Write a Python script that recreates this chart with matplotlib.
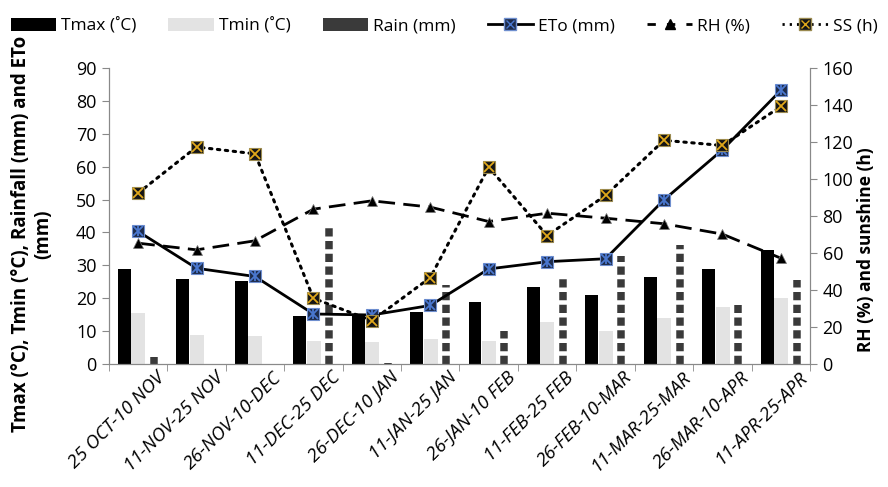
import matplotlib.pyplot as plt
import matplotlib.transforms as mtransforms
from matplotlib.patches import Patch
from matplotlib.lines import Line2D
import numpy as np

# dane
periods = ['25 OCT-10 NOV', '11-NOV-25 NOV', '26-NOV-10-DEC', '11-DEC-25 DEC',
           '26-DEC-10 JAN', '11-JAN-25 JAN', '26-JAN-10 FEB', '11-FEB-25 FEB',
           '26-FEB-10-MAR', '11-MAR-25-MAR', '26-MAR-10-APR', '11-APR-25-APR']
tmax = [29.0, 25.8, 25.3, 14.7, 14.5, 15.8, 18.9, 23.5, 20.9, 26.3, 29.0, 34.6]
tmin = [15.6, 8.9, 8.6, 7.1, 6.8, 7.5, 7.0, 12.7, 10.0, 13.9, 17.4, 20.0]
rain = [2.2, 0.0, 0.0, 41.5, 0.3, 24.0, 10.0, 26.0, 32.9, 36.2, 18.0, 25.4]
eto = [40.3, 29.1, 26.6, 15.2, 14.9, 17.8, 28.9, 31.1, 32.0, 49.9, 65.1, 83.2]
rh = [65.3, 61.7, 66.6, 83.7, 88.2, 84.8, 77.0, 81.5, 78.8, 75.8, 70.2, 57.2]
ss = [92.4, 117.3, 113.6, 35.5, 23.4, 46.7, 106.4, 69.4, 91.1, 120.9, 118.1, 139.2]

plt.rcParams['font.family'] = ['Open Sans', 'DejaVu Sans']
spine_col = '#898989'

fig = plt.figure(figsize=(8.88, 4.87), dpi=100)
ax = fig.add_axes([0.1227, 0.2526, 0.7895, 0.6078])
ax2 = ax.twinx()

x = np.arange(len(periods))

# slupki
ax.bar(x - 0.235, tmax, width=0.22, color='black', zorder=2)
ax.bar(x + 0.005, tmin, width=0.24, color='#e3e3e3', zorder=2)
# opady - kolumna z kwadracikow
ax.vlines(x + 0.27, 0, rain, colors='#3a3a3a', linewidth=5.4,
          linestyles=(0, (1.1, 0.6)), capstyle='butt', zorder=2)

# ETo (lewa os)
ax.plot(x, eto, color='black', linewidth=2.0, zorder=4)
ax.plot(x, eto, linestyle='none', marker='s', markersize=9,
        markerfacecolor='#1d2b4a', markeredgecolor='#6f8fcf', markeredgewidth=0.8, zorder=5)
ax.plot(x, eto, linestyle='none', marker='x', markersize=6.5,
        color='#4a78d0', markeredgewidth=1.3, zorder=6)
ax.plot(x, eto, linestyle='none', marker='|', markersize=7,
        color='#4a78d0', markeredgewidth=1.3, zorder=6)

# RH i SS (prawa os)
ax2.plot(x, rh, color='black', linewidth=2.0, linestyle=(0, (6, 3)), zorder=3)
ax2.plot(x, rh, linestyle='none', marker='^', markersize=7.5, color='black',
         markeredgecolor='#777777', markeredgewidth=0.5, zorder=4)
ax2.plot(x, ss, color='black', linewidth=2.2, linestyle=(0, (0.8, 1.8)),
         dash_capstyle='round', zorder=3)
ax2.plot(x, ss, linestyle='none', marker='s', markersize=9,
         markerfacecolor='#151515', markeredgecolor='#9a8a50', markeredgewidth=0.8, zorder=4)
ax2.plot(x, ss, linestyle='none', marker='x', markersize=6.5,
         color='#e0a81a', markeredgewidth=1.3, zorder=5)

# osie
ax.set_xlim(-0.5, len(periods) - 0.5)
ax.set_ylim(0, 90)
ax.set_yticks(range(0, 91, 10))
ax2.set_ylim(0, 160)
ax2.set_yticks(range(0, 161, 20))

ax.set_xticks(x)
ax.set_xticks(np.arange(-0.5, len(periods)), minor=True)
ax.tick_params(axis='x', which='major', length=0, pad=2)
ax.tick_params(axis='x', which='minor', length=5, color=spine_col)
ax.tick_params(axis='y', length=5, color=spine_col, labelsize=13, pad=4)
ax2.tick_params(axis='y', length=5, color=spine_col, labelsize=13, pad=4)

offset = mtransforms.ScaledTranslation(0.24, -0.08, fig.dpi_scale_trans)
ax.set_xticklabels(periods, rotation=45, ha='right', va='center',
                   rotation_mode='anchor', fontsize=13.5, style='italic')
for lab in ax.get_xticklabels():
    lab.set_transform(lab.get_transform() + offset)

for a in (ax, ax2):
    a.spines['top'].set_visible(False)
    for s in ('left', 'right', 'bottom'):
        a.spines[s].set_color(spine_col)
ax2.patch.set_visible(False)

fig.text(0.036, 0.52, 'Tmax (°C), Tmin (°C), Rainfall (mm) and ETo\n(mm)',
         rotation=90, ha='center', va='center', fontsize=13.5,
         fontweight='bold', linespacing=1.15)
fig.text(0.975, 0.488, 'RH (%) and sunshine (h)', rotation=90, ha='center',
         va='center', fontsize=12.5, fontweight='bold')

# legenda
h_tmax = Patch(facecolor='black')
h_tmin = Patch(facecolor='#e3e3e3')
h_rain = Patch(facecolor='#3a3a3a')
h_eto = (Line2D([], [], color='black', linewidth=2.0),
         Line2D([], [], linestyle='none', marker='s', markersize=8,
                markerfacecolor='#1d2b4a', markeredgecolor='#6f8fcf'),
         Line2D([], [], linestyle='none', marker='x', markersize=6, color='#4a78d0'))
h_rh = (Line2D([], [], color='black', linewidth=2.0, linestyle=(0, (3, 4))),
        Line2D([], [], linestyle='none', marker='^', markersize=7, color='black'))
h_ss = (Line2D([], [], color='black', linewidth=2.0, linestyle=(0, (0.8, 1.8))),
        Line2D([], [], linestyle='none', marker='s', markersize=8,
               markerfacecolor='#151515', markeredgecolor='#9a8a50'),
        Line2D([], [], linestyle='none', marker='x', markersize=6, color='#e0a81a'))
fig.legend([h_tmax, h_tmin, h_rain, h_eto, h_rh, h_ss],
           ['Tmax (˚C)', 'Tmin (˚C)', 'Rain (mm)', 'ETo (mm)', 'RH (%)', 'SS (h)'],
           loc='upper center', bbox_to_anchor=(0.5, 0.995), ncol=6, frameon=False,
           fontsize=12.5, handlelength=2.6, columnspacing=1.85, handletextpad=0.3)

plt.savefig('out.png', dpi=100)
